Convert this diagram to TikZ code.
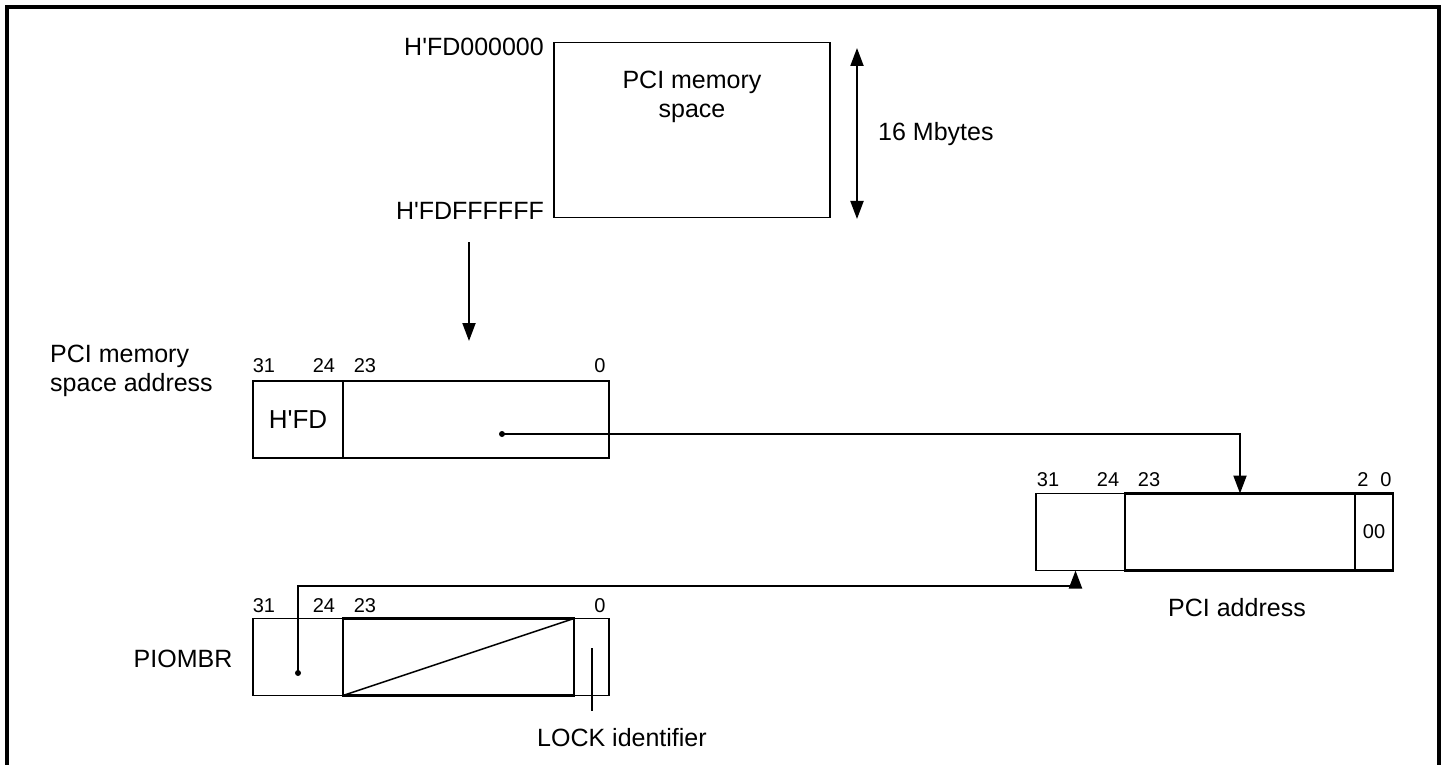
\documentclass[tikz,border=0pt]{standalone}
\usepackage{fontspec}
\setmainfont{Liberation Sans}[Ligatures=TeXOff]
\usetikzlibrary{arrows.meta,positioning}

\begin{document}
\begin{tikzpicture}[x=1pt, y=-1pt,
      lbl/.style={font=\fontsize{25}{29}\selectfont, inner sep=0pt},
      bitno/.style={font=\fontsize{20}{22}\selectfont, inner sep=0pt},
      cell/.style={draw, line width=1.2pt, minimum height=77pt, inner sep=0pt, outer sep=0pt,
                   font=\fontsize{26}{29}\selectfont},
      fld/.style={cell, line width=2.4pt},
      arr/.style={-{Triangle[length=18pt, width=13pt]}, line width=2pt},
      darr/.style={{Triangle[length=18pt, width=13pt]}-{Triangle[length=18pt, width=13pt]}, line width=2pt},
      wire/.style={line width=2pt}
    ]
    \useasboundingbox (0,0) rectangle (1444,765);
    \draw[line width=4pt] (7,765) -- (7,7) -- (1439,7) -- (1439,765);

    % memory space
    \node[draw, line width=1.5pt, minimum width=276pt, minimum height=175pt] (memsp) at (692,130) {};
    \node[lbl, align=center] (memtxt) at (692,97) {PCI memory\\space};
    \node[lbl, anchor=east] (hhi) at (544,47) {H'FD000000};
    \node[lbl, anchor=east] (hlo) at (544,211) {H'FDFFFFFF};
    \coordinate (dbtop) at (857,48);
    \coordinate (dbbot) at (857,219);
    \draw[darr] (dbtop) -- (dbbot);
    \node[lbl, anchor=west] (size) at (878,134) {16 Mbytes};

    % PCI memory space address
    \node[lbl, align=left, anchor=west] (r1name) at (50,371) {PCI memory\\space address};
    \node[cell, minimum width=90pt] (r1hi) at (298,419.5) {H'FD};
    \node[fld, minimum width=266pt] (r1mid) at (476,419.5) {};
    \foreach \x/\t in {264/31,324/24,365/23,600/0}
      \node[bitno] (r1b\t) at (\x,366) {\t};

    % PCI address
    \node[cell, minimum width=89pt] (pahi) at (1080.5,532) {};
    \node[fld, minimum width=230pt] (pamid) at (1240,532) {};
    \node[fld, minimum width=38pt, font=\fontsize{20}{22}\selectfont] (palo) at (1374,532) {00};
    \foreach \x/\t in {1048/31,1108/24,1149/23,1363/2,1386/0}
      \node[bitno] (pab\t) at (\x,480) {\t};
    \node[lbl] (paname) at (1237,608) {PCI address};

    % PIOMBR
    \node[lbl] (pioname) at (183,659) {PIOMBR};
    \node[cell, minimum width=90pt] (piohi) at (298,657) {};
    \node[fld, minimum width=231pt] (piomid) at (458.5,657) {};
    \node[cell, minimum width=35pt] (piolo) at (591.5,657) {};
    \draw[line width=1.5pt] (piomid.south west) -- (piomid.north east);
    \foreach \x/\t in {264/31,324/24,365/23,600/0}
      \node[bitno] (piob\t) at (\x,606) {\t};
    \node[lbl, anchor=west] (lockid) at (537,738) {LOCK identifier};

    % connectors
    \coordinate (dn0) at (469,242);
    \coordinate (dn1) at (469,341);
    \draw[arr] (dn0) -- (dn1);
    \coordinate (r1dot) at (502,434);
    \fill (r1dot) circle (3pt);
    \draw[arr] (r1dot) -| (pamid.north);
    \coordinate (piodot) at (298,673);
    \coordinate (piobend) at (298,586);
    \fill (piodot) circle (3pt);
    \draw[arr] (piodot) -- (piobend) -| ([xshift=-5pt]pahi.south);
    \coordinate (lockpt) at (592,648);
    \coordinate (lockend) at (592,711);
    \draw[wire] (lockpt) -- (lockend);
  \end{tikzpicture}
\end{document}
